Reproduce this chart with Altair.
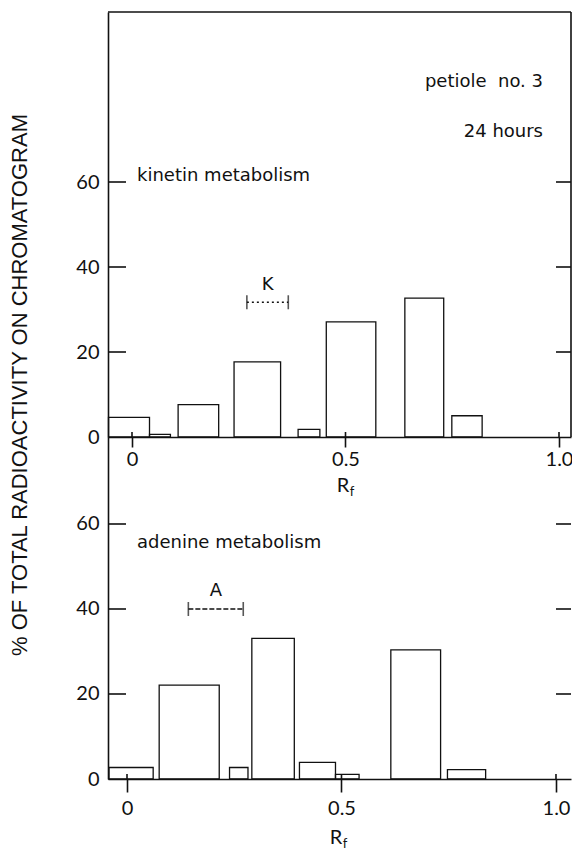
import altair as alt
import pandas as pd

# ---------------- data ----------------
# top panel: kinetin metabolism  (Rf bin edges, % of total radioactivity)
kin_rf_lo = [-0.055, 0.041, 0.108, 0.239, 0.389, 0.455, 0.639, 0.749]
kin_rf_hi = [0.041, 0.090, 0.203, 0.348, 0.440, 0.571, 0.730, 0.820]
kin_pct = [4.6, 0.6, 7.6, 17.7, 1.8, 27.1, 32.7, 5.0]

# bottom panel: adenine metabolism
ade_rf_lo = [-0.042, 0.075, 0.239, 0.291, 0.402, 0.486, 0.615, 0.747]
ade_rf_hi = [0.061, 0.215, 0.282, 0.390, 0.486, 0.541, 0.731, 0.836]
ade_pct = [2.7, 22.1, 2.7, 33.1, 3.9, 1.1, 30.4, 2.2]

# reference markers (Rf range of the standard)
kin_std_label = ["K"]
kin_std_lo = [0.269]
kin_std_hi = [0.366]
kin_std_pct = [31.7]

ade_std_label = ["A"]
ade_std_lo = [0.143]
ade_std_hi = [0.271]
ade_std_pct = [40.0]

y_tick_values = [0, 20, 40, 60]
y_inner_ticks = [20, 40, 60]
x_tick_values = [0, 0.5, 1.0]

y_title = "% OF TOTAL RADIOACTIVITY ON CHROMATOGRAM"
top_notes = ["petiole\u00a0\u00a0no. 3", "24 hours"]
kin_title = "kinetin metabolism"
ade_title = "adenine metabolism"

# ---------------- layout (pixels) ----------------
W = 463
H_TOP = 425
H = 767
FONT = "Lato"
TFONT = "DejaVu Sans"
INK = "#111111"

kin_df = pd.DataFrame({"lo": kin_rf_lo, "hi": kin_rf_hi, "pct": kin_pct})
ade_df = pd.DataFrame({"lo": ade_rf_lo, "hi": ade_rf_hi, "pct": ade_pct})
kstd_df = pd.DataFrame({"label": kin_std_label, "lo": kin_std_lo, "hi": kin_std_hi, "pct": kin_std_pct})
astd_df = pd.DataFrame({"label": ade_std_label, "lo": ade_std_lo, "hi": ade_std_hi, "pct": ade_std_pct})
ytick_df = pd.DataFrame({"t": y_inner_ticks})
xtick_df = pd.DataFrame({"t": x_tick_values})
one = pd.DataFrame({"k": [0]})


def sx(top):
    if top:
        return alt.Scale(domain=[-0.0562, 1.0281], range=[0, W], nice=False, zero=False)
    return alt.Scale(domain=[-0.0443, 1.035], range=[0, W], nice=False, zero=False)


def sy(top):
    if top:
        return alt.Scale(domain=[0, 100], range=[H_TOP, 0], nice=False, zero=False)
    return alt.Scale(domain=[0, 80.47], range=[H, H_TOP], nice=False, zero=False)


def y_axis():
    return alt.Axis(values=y_tick_values, orient="left", ticks=False, tickSize=0,
                    labelPadding=9, labelFont=FONT, labelFontSize=20, labelColor=INK,
                    domainColor=INK, domainWidth=1.6, grid=False, title=None,
                    format="d", labelFlush=False, labelOverlap=False)


def x_axis(offset, tick, pad):
    return alt.Axis(values=x_tick_values, orient="bottom", offset=offset,
                    tickSize=tick, tickColor=INK, tickWidth=1.6,
                    domainColor=INK, domainWidth=1.6, labelPadding=pad,
                    labelFont=FONT, labelFontSize=20, labelColor=INK,
                    labelExpr="datum.value == 0 ? '0' : format(datum.value, '.1f')",
                    grid=False, title=None, labelFlush=False, labelOverlap=False)


def panel(df, std_df, top, xaxis, y_base, title, title_y, rf_x, rf_y, std_dash, std_dy):
    bars = alt.Chart(df).transform_calculate(base="0").mark_rect(
        fillOpacity=0, stroke=INK, strokeWidth=1.3
    ).encode(
        x=alt.X("lo:Q", scale=sx(top), axis=xaxis),
        x2="hi:Q",
        y=alt.Y("pct:Q", scale=sy(top), axis=y_axis()),
        y2="base:Q",
    )
    left_ticks = alt.Chart(ytick_df).mark_rule(color=INK, strokeWidth=1.6).encode(
        y=alt.Y("t:Q", scale=sy(top), axis=None), x=alt.value(0), x2=alt.value(18))
    right_ticks = alt.Chart(ytick_df).mark_rule(color=INK, strokeWidth=1.6).encode(
        y=alt.Y("t:Q", scale=sy(top), axis=None), x=alt.value(W - 15), x2=alt.value(W))
    x_inner = alt.Chart(xtick_df).mark_rule(color=INK, strokeWidth=1.6).encode(
        x=alt.X("t:Q", scale=sx(top), axis=None),
        y=alt.value(y_base - 5), y2=alt.value(y_base))
    bracket = alt.Chart(std_df).mark_rule(color=INK, strokeWidth=1.3, strokeDash=std_dash).encode(
        x=alt.X("lo:Q", scale=sx(top), axis=None), x2="hi:Q",
        y=alt.Y("pct:Q", scale=sy(top), axis=None))
    caps = alt.Chart(std_df).transform_fold(["lo", "hi"], as_=["end", "rf"]).mark_tick(
        orient="vertical", size=14, thickness=1.6, color=INK
    ).encode(x=alt.X("rf:Q", scale=sx(top), axis=None),
             y=alt.Y("pct:Q", scale=sy(top), axis=None))
    std_text = alt.Chart(std_df).transform_calculate(mid="(datum.lo + datum.hi) / 2").mark_text(
        font=TFONT, fontSize=18, color=INK, dy=std_dy
    ).encode(x=alt.X("mid:Q", scale=sx(top), axis=None),
             y=alt.Y("pct:Q", scale=sy(top), axis=None),
             text="label:N")
    ttl = alt.Chart(one).mark_text(font=TFONT, fontSize=18, color=INK, align="left",
                                   baseline="middle").encode(
        x=alt.value(29), y=alt.value(title_y), text=alt.value(title))
    r = alt.Chart(one).mark_text(font=FONT, fontSize=20, color=INK, baseline="middle").encode(
        x=alt.value(rf_x), y=alt.value(rf_y), text=alt.value("R"))
    f = alt.Chart(one).mark_text(font=FONT, fontSize=13, color=INK, baseline="middle").encode(
        x=alt.value(rf_x + 9), y=alt.value(rf_y + 6), text=alt.value("f"))
    return [bars, left_ticks, right_ticks, x_inner, bracket, caps, std_text, ttl, r, f]


top_layers = panel(kin_df, kstd_df, True, x_axis(-(H - H_TOP), 10, 2), H_TOP,
                   kin_title, 164, 235, 474, [2, 3], -17)
bot_layers = panel(ade_df, astd_df, False, x_axis(0, 13, 6), H,
                   ade_title, 531, 228, 826, [5, 2], -18)

frame_right = alt.Chart(one).mark_rule(color=INK, strokeWidth=1.6).encode(
    x=alt.value(W), y=alt.value(0), y2=alt.value(H_TOP))
frame_top = alt.Chart(one).mark_rule(color=INK, strokeWidth=1.6).encode(
    x=alt.value(0), x2=alt.value(W), y=alt.value(0))
note1 = alt.Chart(one).mark_text(font=TFONT, fontSize=18, color=INK, align="right",
                                 baseline="middle").encode(
    x=alt.value(435), y=alt.value(70), text=alt.value(top_notes[0]))
note2 = alt.Chart(one).mark_text(font=TFONT, fontSize=18, color=INK, align="right",
                                 baseline="middle").encode(
    x=alt.value(435), y=alt.value(120), text=alt.value(top_notes[1]))
ytitle = alt.Chart(one).mark_text(font="Liberation Sans", fontSize=22, color=INK, angle=270,
                                  align="center", baseline="middle").encode(
    x=alt.value(-88), y=alt.value(373), text=alt.value(y_title))

chart = alt.layer(*top_layers, *bot_layers, frame_right, frame_top, note1, note2, ytitle
                  ).resolve_scale(x="independent", y="independent").properties(
    width=W, height=H,
    autosize=alt.AutoSizeParams(type="none"),
    padding={"left": 108, "top": 12, "right": 1, "bottom": 74},
    background="white",
).configure_view(stroke=None)

chart.save("out.html", embed_options={"renderer": "svg", "actions": False})
